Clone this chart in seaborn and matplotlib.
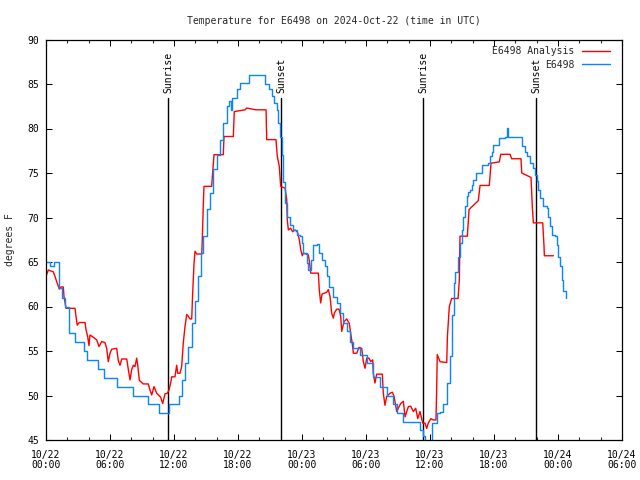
import matplotlib
matplotlib.use("Agg")
import matplotlib.pyplot as plt
import seaborn as sns
import pandas as pd
from matplotlib.ticker import MultipleLocator

# ---- data (hours since 10/22 00:00 UTC, degrees F) ----
station_hours = [0, 0.375, 0.75, 1.03, 1.19, 1.5, 1.78, 2.18, 2.72, 3.35, 3.56, 3.82, 4.81, 4.88,
                 5.37, 5.44, 6.56, 6.66, 8.06, 8.16, 9.5, 9.56, 10.53, 10.59, 11.47, 11.56, 12.25,
                 12.44, 12.72, 13.03, 13.34, 13.66, 13.97, 14.28, 14.53, 14.75, 15.07, 15.38, 15.68,
                 16.0, 16.31, 16.62, 16.94, 17.16, 17.32, 17.47, 17.88, 18.19, 18.91, 19.06, 20.32,
                 20.53, 20.93, 21.16, 21.38, 21.63, 21.78, 21.94, 22.1, 22.25, 22.41, 22.57, 22.88,
                 23.18, 23.5, 23.81, 23.97, 24.13, 24.44, 24.59, 24.82, 25.06, 25.38, 25.62, 25.85,
                 26.16, 26.32, 26.56, 26.94, 27.25, 27.56, 27.87, 28.19, 28.5, 28.81, 29.44, 30.07,
                 30.68, 31.31, 31.94, 32.56, 32.88, 33.5, 34.75, 35.06, 35.32, 35.53, 35.84, 36.16,
                 36.63, 36.94, 37.25, 37.57, 37.88, 38.06, 38.25, 38.34, 38.5, 38.66, 38.81, 38.97,
                 39.12, 39.28, 39.44, 39.59, 39.75, 39.91, 40.06, 40.28, 40.69, 40.9, 41.41, 41.63,
                 41.78, 41.94, 42.4, 42.5, 43.03, 43.19, 43.34, 44.37, 44.6, 44.9, 45.12, 45.38,
                 45.68, 45.84, 46.0, 46.15, 46.31, 46.57, 46.94, 47.09, 47.25, 47.41, 47.72, 47.88,
                 48.03, 48.19, 48.34, 48.5, 48.72]
station_temps = [65, 64.5, 65, 65, 62.1, 61, 60, 57, 56, 56, 55, 54, 54, 53,
                 53, 52, 52, 51, 51, 50, 50, 49, 49, 48, 48, 49, 49,
                 49.9, 51.75, 53.6, 55.5, 58.1, 60.6, 63.4, 66, 67.9, 70.9, 72.75, 75.4,
                 77.06, 78.75, 80.6, 82.5, 83.06, 82.1, 83.4, 84.4, 85.1, 85.1, 86, 86,
                 85, 84.4, 83.6, 82.9, 82.1, 80.6, 79.1, 77, 74, 71.6, 70.1, 69.2,
                 68.6, 68.06, 67.9, 67.1, 66, 64.9, 64.1, 65.2, 66.9, 67, 66, 65.2,
                 64.5, 63.4, 62.2, 61.1, 60.4, 59.3, 58.1, 57.2, 56.06, 55.3, 54.56, 53.6,
                 52.1, 51, 49.9, 49.1, 48, 47, 47, 46.1, 45.4, 44.8, 44.8, 46.9,
                 48, 48.1, 49.1, 51.4, 54.4, 59, 62.6, 63.9, 63.9, 65.6, 67.1, 68.6,
                 70.1, 71.25, 72.4, 72.9, 73.1, 73.7, 74.25, 75, 75, 75.9, 76.1, 76.9,
                 77.4, 78.2, 78.2, 78.9, 79, 80.06, 79.1, 79, 78, 77.4, 76.9, 76.1,
                 75.6, 74.8, 74.06, 73.1, 72.2, 71.25, 71.06, 70.1, 69, 68.06, 67.9, 66.9,
                 65.6, 64.5, 63, 61.7, 61]

analysis_hours = [0, 0.22, 0.68, 0.84, 1.0, 1.25, 1.41, 1.62, 1.69, 1.88, 2.72, 2.81, 2.93, 3.12,
                  3.66, 3.75, 3.91, 4.03, 4.12, 4.43, 4.75, 4.97, 5.22, 5.53, 5.69, 5.84, 6.0,
                  6.16, 6.63, 6.78, 6.94, 7.1, 7.57, 7.72, 7.88, 8.03, 8.18, 8.34, 8.5, 8.6, 8.75,
                  9.12, 9.59, 9.75, 9.91, 10.12, 10.38, 10.59, 10.75, 10.94, 11.16, 11.37, 11.53,
                  11.72, 11.78, 12.09, 12.25, 12.35, 12.56, 12.72, 12.87, 13.03, 13.19, 13.34, 13.5,
                  13.66, 13.75, 13.88, 13.97, 14.13, 14.6, 14.65, 14.75, 14.81, 15.53, 15.75, 16.62,
                  16.69, 17.56, 17.65, 18.66, 18.82, 19.69, 20.63, 20.69, 21.56, 21.68, 21.87, 22.0,
                  22.41, 22.57, 22.62, 22.72, 22.94, 23.12, 23.34, 23.56, 23.75, 23.88, 24.03, 24.13,
                  24.59, 24.68, 24.82, 25.53, 25.62, 25.75, 25.88, 26.32, 26.47, 26.63, 26.78, 26.94,
                  27.03, 27.25, 27.47, 27.63, 27.72, 27.94, 28.19, 28.43, 28.59, 28.75, 28.81, 29.13,
                  29.34, 29.6, 29.75, 29.91, 30.07, 30.28, 30.44, 30.63, 30.68, 30.84, 31.0, 31.53,
                  31.62, 31.78, 31.94, 32.25, 32.47, 32.63, 32.88, 33.03, 33.25, 33.5, 33.66, 33.97,
                  34.19, 34.44, 34.66, 34.85, 35.06, 35.32, 35.53, 35.69, 35.84, 36.07, 36.31, 36.56,
                  36.63, 36.68, 36.94, 37.57, 37.63, 37.81, 38.03, 38.63, 38.75, 38.81, 39.5, 39.66,
                  40.53, 40.69, 41.56, 41.72, 42.5, 42.63, 43.5, 43.66, 44.53, 44.6, 45.47, 45.59,
                  45.69, 46.57, 46.69, 46.72, 47.57]
analysis_temps = [63.4, 64.1, 63.9, 63.4, 62.8, 61.95, 62.2, 62.2, 61.1, 59.8, 59.8, 58.9, 57.9, 58.2,
                  58.2, 57.4, 56.6, 55.6, 56.8, 56.55, 56.25, 55.5, 56.06, 55.95, 55.3, 53.8, 54.75,
                  55.2, 55.3, 53.9, 53.4, 54.1, 54.1, 52.9, 51.75, 52.9, 53.4, 53.25, 54.2, 53.4, 51.7,
                  51.3, 51.3, 50.6, 50.06, 51, 50.25, 50, 49.8, 49.1, 50.2, 50.25, 50.6,
                  51.6, 52.1, 52.1, 53.4, 52.5, 52.5, 53.25, 55.9, 57.75, 59.1, 58.9, 58.6,
                  58.6, 61.5, 64.9, 66.2, 65.9, 65.9, 67.5, 71.6, 73.5, 73.5, 77.06, 77.06,
                  79.1, 79.1, 81.9, 82.1, 82.3, 82.1, 82.1, 78.75, 78.75, 76.9, 75.75, 73.5,
                  73.3, 72, 69.75, 68.6, 68.8, 68.4, 68.6, 68.4, 67.5, 66.4, 65.7, 66,
                  65.8, 65.2, 63.75, 63.75, 61.9, 60.4, 61.4, 61.6, 61.9, 61.1, 59.25, 58.7,
                  59.25, 59.7, 59.7, 58.9, 57.2, 58.3, 58.6, 58.1, 56.8, 55.5, 54.75, 54.75,
                  55.4, 55.3, 53.8, 53.06, 54.2, 54.2, 53.8, 54, 52.5, 51.4, 52.4, 52.4,
                  50.25, 48.9, 49.9, 50.25, 50.37, 49.9, 48.2, 48.56, 49.1, 49.35, 47.6, 48.75,
                  48.8, 48.2, 48.56, 47.4, 48.2, 46.9, 46.9, 46.3, 46.9, 47.4, 47.25, 47.25,
                  51, 54.6, 53.8, 53.7, 56.6, 60, 60.9, 60.9, 63, 67.9, 67.9, 70.9,
                  71.9, 73.6, 73.6, 76.1, 76.25, 77.1, 77.1, 76.6, 76.6, 75, 74.5, 71.25,
                  69.4, 69.4, 66.75, 65.7, 65.7]

sun_events = ["Sunrise", "Sunset", "Sunrise", "Sunset"]
sun_hours = [11.44, 22.03, 35.34, 45.94]

x_tick_hours = [0, 6, 12, 18, 24, 30, 36, 42, 48, 54]
x_tick_labels = ["10/22\n00:00", "10/22\n06:00", "10/22\n12:00", "10/22\n18:00",
                 "10/23\n00:00", "10/23\n06:00", "10/23\n12:00", "10/23\n18:00",
                 "10/24\n00:00", "10/24\n06:00"]
y_ticks = [45, 50, 55, 60, 65, 70, 75, 80, 85, 90]

title = "Temperature for E6498 on 2024-Oct-22 (time in UTC)"
series_names = ["E6498 Analysis", "E6498"]
series_colors = ["#ff0000", "#0a84ff"]

# ---- plotting ----
sns.set_style("white")
plt.rcParams["font.family"] = ["DejaVu Sans Mono"]
FS = 7

fig = plt.figure(figsize=(6.4, 4.8), dpi=100)
ax = fig.add_axes([46 / 640, 40 / 480, 576 / 640, 400.5 / 480])

df_a = pd.DataFrame({"hour": analysis_hours, "temp": analysis_temps})
df_s = pd.DataFrame({"hour": station_hours, "temp": station_temps})

sns.lineplot(data=df_a, x="hour", y="temp", ax=ax, color=series_colors[0], lw=1.0,
             label=series_names[0], sort=False, estimator=None)
sns.lineplot(data=df_s, x="hour", y="temp", ax=ax, color=series_colors[1], lw=1.0,
             label=series_names[1], sort=False, estimator=None, drawstyle="steps-post")

for name, h in zip(sun_events, sun_hours):
    ax.plot([h, h], [45, 83.4], color="black", lw=1.0, zorder=1)
    ax.text(h, 84.0, name, rotation=90, ha="center", va="bottom", fontsize=FS, color="black")

ax.set_xlim(0, 54)
ax.set_ylim(45, 90)
ax.set_xticks(x_tick_hours)
ax.set_xticklabels(x_tick_labels, linespacing=1.0)
ax.xaxis.set_minor_locator(MultipleLocator(2))
ax.set_yticks(y_ticks)
ax.tick_params(axis="both", which="major", direction="in", length=4.5, width=0.75,
               labelsize=FS, top=True, right=True, bottom=True, left=True, colors="black")
ax.tick_params(axis="x", which="major", pad=7)
ax.tick_params(axis="y", which="major", pad=5)
ax.tick_params(axis="x", which="minor", direction="in", length=2.3, width=0.75,
               top=True, bottom=True)
for s in ax.spines.values():
    s.set_color("black")
    s.set_linewidth(0.9)

ax.set_xlabel("")
ax.set_ylabel("degrees F", fontsize=FS, labelpad=9)
ax.set_title(title, fontsize=FS, pad=11)

leg = ax.legend(loc="upper right", bbox_to_anchor=(1 - 5 / 576, 1.0), frameon=False,
                markerfirst=False, fontsize=FS, handlelength=2.9, handletextpad=0.75,
                borderaxespad=0.3, labelspacing=0.35)
for t in leg.get_texts():
    t.set_ha("right")

fig.savefig("out.png", dpi=100)
